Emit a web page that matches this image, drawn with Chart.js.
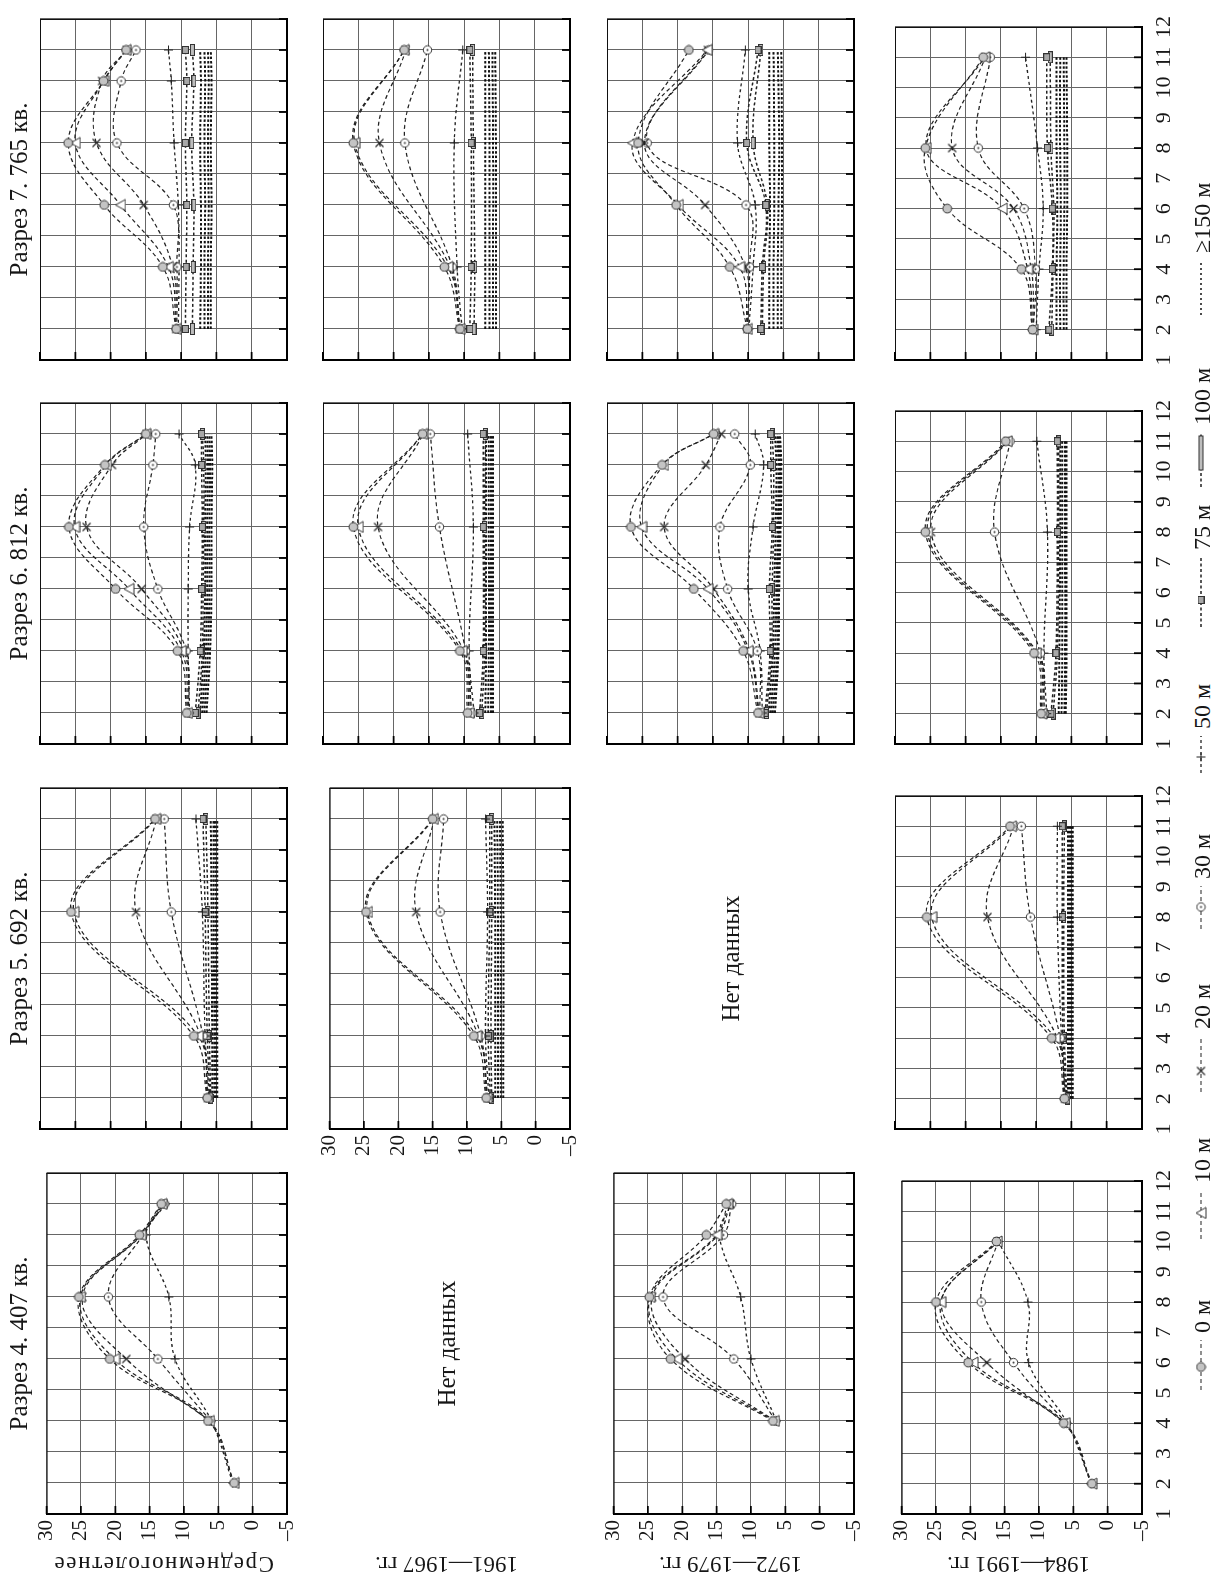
<!DOCTYPE html>
<html><head><meta charset="utf-8">
<script src="https://cdn.jsdelivr.net/npm/chart.js"></script>
<style>
html,body{margin:0;padding:0;background:#fff}
body{width:1217px;height:1579px;position:relative;overflow:hidden}
#fig{position:absolute;left:0;top:0;width:1579px;height:1217px;transform-origin:0 0;transform:translate(0px,1579px) rotate(-90deg);font-family:'Liberation Serif','Times New Roman',serif;color:#161616}
#fig canvas{position:absolute}
.lbl{position:absolute;white-space:nowrap;text-align:center}
</style></head><body><div id="fig"></div>
<script>
// ---------- texts / ticks ----------
const PERIODS = ['Среднемноголетнее', '1961—1967 гг.', '1972—1979 гг.', '1984—1991 гг.'];
const SECTIONS = ['Разрез 4. 407 кв.', 'Разрез 5. 692 кв.', 'Разрез 6. 812 кв.', 'Разрез 7. 765 кв.'];
const DEPTHS = ['0 м', '10 м', '20 м', '30 м', '50 м', '75 м', '100 м', '≥150 м'];
const MONTH_TICKS = [1,2,3,4,5,6,7,8,9,10,11,12];
const TEMP_TICKS = [-5,0,5,10,15,20,25,30];
const NO_DATA = 'Нет данных';

// ---------- data: rows = depths 0,10,20,30,50,75,100, then ≥150 lines ----------
// Разрез 4
const MONTHS_S4_MEAN = [2,4,6,8,10,11];
const S4_MEAN = [
 [2.7, 6.5, 20.8, 25.3, 16.5, 13.3],
 [2.7, 6.3, 20.1, 25.1, 16.3, 13.2],
 [null, 6.2, 18.4, 24.8, 16.2, 13.0],
 [null, 6.1, 13.8, 21.0, 16.0, 12.8],
 [2.9, 6.0, 11.3, 12.2, 15.5, 12.7]];
const MONTHS_S4_P2 = [4,6,8,10,11];
const S4_P2 = [
 [6.8, 21.7, 24.8, 16.5, 13.6],
 [6.6, 20.8, 24.7, 15.0, 13.4],
 [6.5, 19.6, 24.4, 14.8, 13.0],
 [6.4, 12.5, 22.8, 14.0, 12.8],
 [6.3, 10.0, 11.5, 14.6, 12.9]];
const MONTHS_S4_P3 = [2,4,6,8,10];
const S4_P3 = [
 [2.3, 6.4, 20.3, 25.0, 16.2],
 [2.3, 6.2, 19.6, 24.3, 16.1],
 [null, 6.1, 17.6, 24.2, 16.0],
 [null, 6.0, 13.7, 18.4, 16.0],
 [2.4, 5.9, 11.5, 11.6, 15.9]];
// Разрез 5
const MONTHS_S5_MEAN = [2,4,8,11];
const S5_MEAN = [
 [6.3, 8.2, 25.6, 13.7],
 [6.3, 7.6, 25.2, 13.6],
 [6.2, 7.2, 16.4, 13.5],
 [6.2, 6.9, 11.4, 12.4],
 [6.0, 6.6, 7.0, 7.9],
 [5.9, 6.3, 6.6, 6.9],
 [5.8, 6.0, 6.2, 6.5],
 [5.6, 5.6, 5.7, 5.8],
 [5.3, 5.3, 5.4, 5.4],
 [5.1, 5.1, 5.1, 5.2],
 [4.9, 4.9, 4.9, 4.9]];
const MONTHS_S5_P1 = [2,4,8,11];
const S5_P1 = [
 [7.2, 9.0, 24.7, 15.0],
 [7.1, 8.6, 24.5, 14.9],
 [7.0, 8.3, 17.4, 14.8],
 [7.0, 8.0, 13.9, 13.4],
 [6.8, 7.3, 7.0, 7.3],
 [6.6, 6.9, 6.7, 6.7],
 [6.4, 6.5, 6.4, 6.4],
 [5.9, 5.9, 5.9, 6.0],
 [5.5, 5.5, 5.5, 5.6],
 [5.1, 5.1, 5.1, 5.2],
 [4.7, 4.7, 4.7, 4.8]];
const MONTHS_S5_P3 = [2,4,8,11];
const S5_P3 = [
 [6.0, 7.8, 25.5, 13.7],
 [6.0, 7.3, 24.8, 13.5],
 [5.9, 7.0, 16.9, 13.2],
 [5.9, 6.6, 10.8, 12.1],
 [5.8, 6.4, 7.0, 7.0],
 [5.7, 6.2, 6.3, 6.3],
 [5.6, 6.0, 6.1, 6.0],
 [5.5, 5.5, 5.5, 5.5],
 [5.2, 5.2, 5.2, 5.2],
 [5.0, 5.0, 5.0, 5.0],
 [4.8, 4.8, 4.8, 4.8]];
// Разрез 6
const MONTHS_S6_MEAN = [2,4,6,8,10,11];
const S6_MEAN = [
 [9.2, 10.5, 19.3, 25.9, 20.8, 15.0],
 [9.1, 10.0, 17.4, 25.1, 20.6, 15.0],
 [9.0, 9.6, 15.6, 23.4, 19.8, 14.9],
 [8.9, 9.3, 13.3, 15.3, 14.0, 13.6],
 [8.8, 9.0, 9.0, 8.8, 8.0, 10.3],
 [8.0, 7.3, 7.1, 7.0, 7.1, 7.1],
 [7.6, 7.0, 6.9, 6.8, 6.8, 7.0],
 [7.3, 6.8, 6.6, 6.6, 6.5, 6.6],
 [7.0, 6.5, 6.3, 6.3, 6.2, 6.3],
 [6.7, 6.2, 6.0, 6.0, 5.9, 6.0],
 [6.4, 5.9, 5.7, 5.7, 5.6, 5.7]];
const MONTHS_S6_P1 = [2,4,8,11];
const S6_P1 = [
 [9.5, 10.6, 25.7, 15.9],
 [9.3, 10.3, 25.0, 15.9],
 [9.1, 10.0, 22.2, 15.8],
 [8.9, 9.8, 13.5, 14.8],
 [8.6, 9.3, 8.7, 9.5],
 [7.8, 7.3, 7.3, 7.3],
 [7.5, 7.1, 7.1, 7.0],
 [7.0, 6.9, 6.9, 6.9],
 [6.6, 6.5, 6.5, 6.5],
 [6.2, 6.2, 6.2, 6.2],
 [5.9, 5.9, 5.9, 5.9]];
const MONTHS_S6_P2 = [2,4,6,8,10,11];
const S6_P2 = [
 [8.6, 10.7, 17.7, 26.6, 22.2, 14.9],
 [8.5, 10.0, 15.7, 25.1, 22.0, 14.9],
 [8.4, 9.8, 14.9, 21.9, 16.0, 13.8],
 [8.3, 8.7, 12.9, 14.0, 9.7, 11.9],
 [8.0, 8.3, 10.0, 9.3, 7.8, 9.0],
 [7.6, 6.9, 7.0, 6.6, 6.8, 6.8],
 [7.4, 6.7, 6.6, 6.4, 6.4, 6.6],
 [7.1, 6.5, 6.3, 6.1, 6.0, 6.2],
 [6.8, 6.2, 6.0, 5.8, 5.7, 5.9],
 [6.5, 5.9, 5.8, 5.6, 5.5, 5.7],
 [6.2, 5.7, 5.6, 5.4, 5.3, 5.5]];
const MONTHS_S6_P3 = [2,4,8,11];
const S6_P3 = [
 [9.3, 10.3, 25.7, 14.3],
 [9.2, 10.0, 25.4, 14.1],
 [9.0, 9.8, 24.9, 14.0],
 [8.8, 9.4, 15.9, 13.7],
 [8.5, 8.9, 8.4, 9.9],
 [7.9, 7.2, 7.0, 7.0],
 [7.6, 7.0, 6.8, 6.8],
 [6.8, 6.7, 6.6, 6.6],
 [6.4, 6.3, 6.3, 6.3],
 [6.0, 5.9, 5.9, 5.9],
 [5.8, 5.7, 5.7, 5.7]];
// Разрез 7
const MONTHS_S7_MEAN = [2,4,6,8,10,11];
const S7_MEAN = [
 [10.7, 12.6, 20.9, 26.0, 21.0, 17.8],
 [10.7, 11.8, 18.6, 25.0, 21.0, 17.8],
 [10.7, 11.2, 15.3, 22.0, 21.2, 17.7],
 [10.6, 10.6, 11.1, 19.1, 18.5, 16.4],
 [10.4, 10.3, 10.4, 11.0, 11.4, 11.8],
 [9.4, 9.3, 9.2, 9.4, 9.2, 9.4],
 [8.4, 8.3, 8.2, 8.5, 8.2, 8.4],
 [7.3, 7.2, 7.2, 7.3, 7.2, 7.3],
 [6.7, 6.7, 6.6, 6.7, 6.6, 6.7],
 [6.2, 6.2, 6.1, 6.2, 6.1, 6.2],
 [5.8, 5.8, 5.7, 5.8, 5.7, 5.8]];
const MONTHS_S7_P1 = [2,4,8,11];
const S7_P1 = [
 [10.6, 12.8, 25.7, 18.5],
 [10.6, 12.3, 25.5, 18.5],
 [10.6, 12.0, 22.0, 18.3],
 [10.6, 11.7, 18.4, 15.2],
 [10.3, 11.0, 11.4, 10.2],
 [9.2, 9.0, 9.0, 9.2],
 [8.6, 8.5, 8.7, 8.8],
 [7.0, 7.0, 7.0, 7.0],
 [6.4, 6.4, 6.4, 6.5],
 [5.9, 5.9, 5.9, 6.0],
 [5.5, 5.5, 5.5, 5.6]];
const MONTHS_S7_P2 = [2,4,6,8,11];
const S7_P2 = [
 [10.1, 12.6, 20.2, 25.6, 18.4],
 [10.1, 11.2, 19.9, 26.4, 15.8],
 [10.1, 10.4, 16.1, 24.7, 15.7],
 [10.1, 9.8, 10.3, 24.3, 15.6],
 [9.9, 9.3, 9.0, 11.5, 10.4],
 [8.2, 8.0, 7.5, 10.2, 8.6],
 [8.0, 7.8, 7.3, 9.3, 8.2],
 [7.0, 7.0, 6.9, 7.0, 7.0],
 [6.4, 6.4, 6.3, 6.3, 6.4],
 [5.8, 5.8, 5.7, 5.6, 5.8],
 [5.3, 5.3, 5.2, 5.2, 5.3]];
const MONTHS_S7_P3 = [2,4,6,8,11];
const S7_P3 = [
 [10.5, 12.1, 22.6, 25.7, 17.5],
 [10.5, 11.2, 14.8, 25.6, 17.3],
 [10.4, 10.7, 13.2, 21.9, 17.2],
 [10.4, 10.1, 11.7, 18.2, 16.5],
 [10.0, 9.6, 9.0, 9.8, 11.5],
 [8.2, 7.7, 7.7, 8.4, 8.5],
 [7.8, 7.6, 7.5, 7.9, 8.0],
 [7.1, 7.1, 7.0, 7.1, 7.1],
 [6.6, 6.6, 6.5, 6.6, 6.6],
 [6.1, 6.1, 6.0, 6.0, 6.1],
 [5.7, 5.7, 5.6, 5.6, 5.7]];

// ---------- layout (original orientation, figure later rotated 90° CCW) ----------
const SEC_LEFT = [65, 450, 835, 1219], PW = 341;
const ROW_TOP = [40, 323, 607, 895], PH = 247;
const PL = 70, PR = 12, PT = 12, PB = 44;
const fig = document.getElementById('fig');
Chart.defaults.font.family = "'Liberation Serif','Times New Roman',serif";
Chart.defaults.color = '#161616';

// ---------- marker glyphs ----------
function mk(w, h, draw) { const c = document.createElement('canvas'); c.width = w; c.height = h; const g = c.getContext('2d'); draw(g, w, h); return c; }
const INK = '#222';
const MARKERS = [
  mk(11,11,g=>{g.beginPath();g.arc(5.5,5.5,4.4,0,7);g.fillStyle='#c4c4c4';g.fill();g.lineWidth=1;g.strokeStyle='#333';g.stroke();}),
  mk(13,12,g=>{g.beginPath();g.moveTo(6.5,1);g.lineTo(12,11);g.lineTo(1,11);g.closePath();g.fillStyle='#fff';g.fill();g.lineWidth=1;g.strokeStyle='#333';g.stroke();}),
  mk(11,11,g=>{g.strokeStyle=INK;g.lineWidth=1.1;g.beginPath();g.moveTo(1.5,1.5);g.lineTo(9.5,9.5);g.moveTo(9.5,1.5);g.lineTo(1.5,9.5);g.stroke();}),
  mk(11,11,g=>{g.beginPath();g.arc(5.5,5.5,4.2,0,7);g.fillStyle='#fff';g.fill();g.lineWidth=1;g.strokeStyle='#333';g.stroke();g.beginPath();g.arc(5.5,5.5,1,0,7);g.fillStyle='#333';g.fill();}),
  mk(11,11,g=>{g.strokeStyle=INK;g.lineWidth=1;g.beginPath();g.moveTo(5.5,1);g.lineTo(5.5,10);g.moveTo(1,5.5);g.lineTo(10,5.5);g.stroke();}),
  mk(8,7,g=>{g.fillStyle='#a8a8a8';g.fillRect(0.5,0.5,7,6);g.lineWidth=1;g.strokeStyle='#333';g.strokeRect(0.5,0.5,7,6);}),
  mk(12,5,g=>{g.fillStyle='#bdbdbd';g.fillRect(0.5,0.5,11,4);g.lineWidth=1;g.strokeStyle='#333';g.strokeRect(0.5,0.5,11,4);}),
  false
];
const DASHES = [[4,3],[4,3],[4,3],[4,3],[3,3],[3,2.5],[3,2.5],[2.5,2]];
const WIDTHS = [1.2,1.2,1.2,1.2,1.3,1.5,1.5,2.0];

function datasetsFor(months, rows) {
  return rows.map((vals, i) => {
    const k = Math.min(i, 7);
    const pts = [];
    months.forEach((m, j) => { if (vals[j] !== null) pts.push({x: m, y: vals[j]}); });
    return {
      label: DEPTHS[k], data: pts,
      borderColor: k === 7 ? '#111' : INK, borderWidth: WIDTHS[k], borderDash: DASHES[k],
      pointStyle: MARKERS[k], pointRadius: MARKERS[k] ? 5 : 0,
      fill: false, tension: 0.38, order: i
    };
  });
}

const frame = {
  id: 'frame',
  afterDraw(chart) {
    const {ctx, chartArea: a, scales: {x, y}} = chart;
    ctx.save();
    ctx.strokeStyle = '#111'; ctx.lineWidth = 1;
    ctx.beginPath(); ctx.moveTo(a.left, a.top + 0.5); ctx.lineTo(a.right, a.top + 0.5);
    ctx.moveTo(a.right - 0.5, a.top); ctx.lineTo(a.right - 0.5, a.bottom); ctx.stroke();
    ctx.lineWidth = 1.8; ctx.strokeStyle = '#000';
    ctx.beginPath();
    y.ticks.forEach((t, i) => { const p = y.getPixelForTick(i); ctx.moveTo(a.left, p); ctx.lineTo(a.left + 8, p); });
    x.ticks.forEach((t, i) => { const p = x.getPixelForTick(i); ctx.moveTo(p, a.bottom); ctx.lineTo(p, a.bottom - 8); });
    ctx.stroke();
    ctx.restore();
  }
};

function panel(s, r, months, rows) {
  const c = document.createElement('canvas');
  const W = PW + PL + PR, H = PH + PT + PB;
  c.width = W; c.height = H;
  c.style.left = (SEC_LEFT[s] - PL) + 'px';
  c.style.top = (ROW_TOP[r] - PT) + 'px';
  c.style.width = W + 'px'; c.style.height = H + 'px';
  fig.appendChild(c);
  const showY = (r === 1) ? s === 1 : s === 0;
  const showX = r === 3;
  new Chart(c, {
    type: 'line',
    data: { datasets: datasetsFor(months, rows) },
    options: {
      responsive: false, animation: false, devicePixelRatio: 1,
      layout: { padding: { top: PT, right: PR, left: 0, bottom: 0 } },
      plugins: { legend: { display: false }, tooltip: { enabled: false } },
      scales: {
        x: {
          type: 'linear', min: 1, max: 12,
          afterBuildTicks: sc => { sc.ticks = MONTH_TICKS.map(v => ({value: v})); },
          afterFit: sc => { sc.height = PB; },
          grid: { color: '#666', lineWidth: 1, drawTicks: false },
          border: { color: '#000', width: 2 },
          ticks: { display: showX, padding: 9, autoSkip: false, maxRotation: 0, font: { size: 22 }, color: '#161616' }
        },
        y: {
          type: 'linear', min: -5, max: 30,
          afterBuildTicks: sc => { sc.ticks = TEMP_TICKS.map(v => ({value: v})); },
          afterFit: sc => { sc.width = PL; },
          grid: { color: '#666', lineWidth: 1, drawTicks: false },
          border: { color: '#000', width: 2 },
          ticks: { display: showY, padding: 6, font: { size: 21 }, color: '#161616',
                   callback: v => v < 0 ? '–' + Math.abs(v) : String(v) }
        }
      }
    },
    plugins: [frame]
  });
}

panel(0, 0, MONTHS_S4_MEAN, S4_MEAN);
panel(0, 2, MONTHS_S4_P2, S4_P2);
panel(0, 3, MONTHS_S4_P3, S4_P3);
panel(1, 0, MONTHS_S5_MEAN, S5_MEAN);
panel(1, 1, MONTHS_S5_P1, S5_P1);
panel(1, 3, MONTHS_S5_P3, S5_P3);
panel(2, 0, MONTHS_S6_MEAN, S6_MEAN);
panel(2, 1, MONTHS_S6_P1, S6_P1);
panel(2, 2, MONTHS_S6_P2, S6_P2);
panel(2, 3, MONTHS_S6_P3, S6_P3);
panel(3, 0, MONTHS_S7_MEAN, S7_MEAN);
panel(3, 1, MONTHS_S7_P1, S7_P1);
panel(3, 2, MONTHS_S7_P2, S7_P2);
panel(3, 3, MONTHS_S7_P3, S7_P3);

function label(text, css) {
  const d = document.createElement('div'); d.className = 'lbl'; d.textContent = text;
  Object.assign(d.style, css); fig.appendChild(d); return d;
}
// section titles
SECTIONS.forEach((t, s) => label(t, { left: SEC_LEFT[s] + 'px', width: PW + 'px', top: '6px', fontSize: '25px', lineHeight: '25px' }));
// period labels (vertical)
PERIODS.forEach((t, r) => label(t, { left: (14 - 160) + 'px', width: '320px', top: (ROW_TOP[r] + PH / 2 - 11.5) + 'px',
  fontSize: '23px', lineHeight: '23px', height: '23px', transform: 'rotate(-90deg)',
  letterSpacing: r === 0 ? '1.6px' : '0px' }));
// no data
[[0, 1], [1, 2]].forEach(([s, r]) => label(NO_DATA, { left: SEC_LEFT[s] + 'px', width: PW + 'px', top: (ROW_TOP[r] + PH / 2 - 13) + 'px', fontSize: '25px', lineHeight: '26px' }));

// legend: sample start, marker centre, text start
const LEG_LINE_X = [189, 340, 487, 650, 806, 952, 1092, 1264];
const LEG_MARK_X = [212, 366, 508, 672, 822, 979, 1126, 0];
const LEG_TEXT_X = [246, 396, 550, 700, 850, 1029, 1154, 1326];
DEPTHS.forEach((t, k) => {
  const x0 = LEG_LINE_X[k], x1 = LEG_TEXT_X[k] - 7;
  const c = document.createElement('canvas'); c.width = x1 - x0 + 4; c.height = 22;
  c.style.left = (x0 - 2) + 'px'; c.style.top = '1190px';
  const g = c.getContext('2d');
  g.strokeStyle = k === 7 ? '#111' : INK; g.lineWidth = k === 7 ? 1.6 : WIDTHS[k]; g.setLineDash(k === 7 ? [2, 3] : DASHES[k]);
  g.beginPath(); g.moveTo(2, 11); g.lineTo(c.width - 2, 11); g.stroke();
  if (MARKERS[k]) {
    let m = MARKERS[k];
    if (k === 6) { g.setLineDash([]); g.fillStyle = '#bdbdbd'; g.fillRect(LEG_MARK_X[k] - x0 + 2 - 17, 9, 34, 4); g.lineWidth = 1; g.strokeStyle = '#333'; g.strokeRect(LEG_MARK_X[k] - x0 + 2 - 17, 9, 34, 4); }
    else g.drawImage(m, LEG_MARK_X[k] - x0 + 2 - m.width / 2, 11 - m.height / 2);
  }
  fig.appendChild(c);
  label(t, { left: LEG_TEXT_X[k] + 'px', top: '1190px', fontSize: '24px', lineHeight: '24px', textAlign: 'left' });
});
</script></body></html>
